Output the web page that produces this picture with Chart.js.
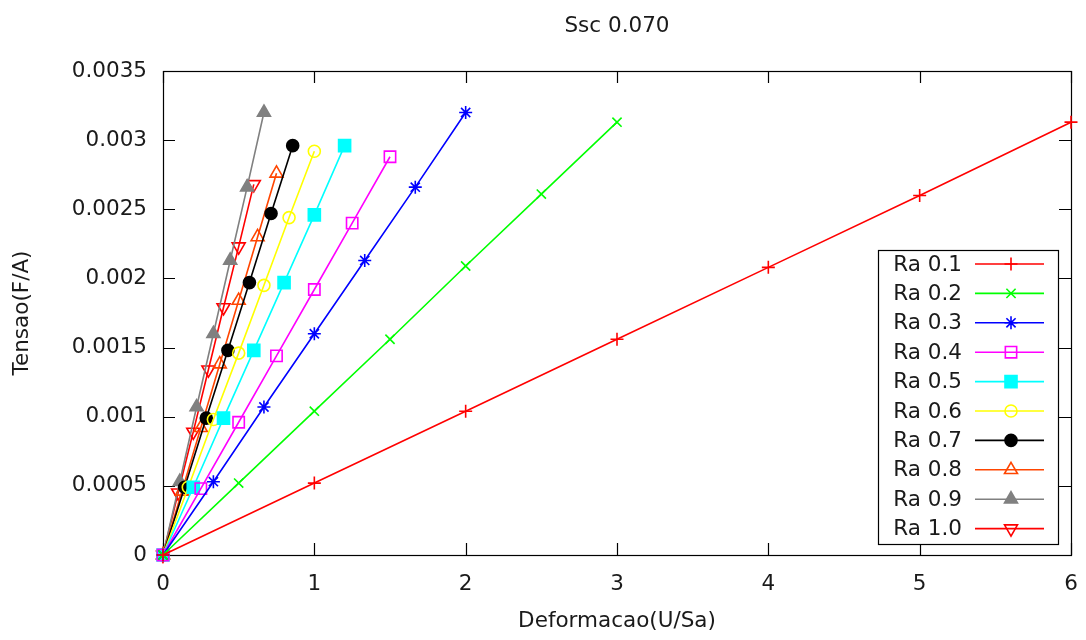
<!DOCTYPE html>
<html>
<head>
<meta charset="utf-8">
<script src="https://cdn.jsdelivr.net/npm/chart.js@4.4.0/dist/chart.umd.min.js"></script>
<style>
  html, body { margin: 0; padding: 0; background: #fff; }
  #wrap { width: 1086px; height: 640px; }
</style>
</head>
<body>
<div id="wrap"><canvas id="myChart" width="1086" height="640"></canvas></div>
<script>
// Chart data
const titleText = 'Ssc 0.070';
const xTitle = 'Deformacao(U/Sa)';
const yTitle = 'Tensao(F/A)';

const xTicks = [0, 1, 2, 3, 4, 5, 6];
const yTicks = [0, 0.0005, 0.001, 0.0015, 0.002, 0.0025, 0.003, 0.0035];
const yTickLabels = ['0', '0.0005', '0.001', '0.0015', '0.002', '0.0025', '0.003', '0.0035'];

const seriesNames = ['Ra 0.1', 'Ra 0.2', 'Ra 0.3', 'Ra 0.4', 'Ra 0.5', 'Ra 0.6', 'Ra 0.7', 'Ra 0.8', 'Ra 0.9', 'Ra 1.0'];

const xRa01 = [0, 1, 2, 3, 4, 5, 6];
const yRa01 = [0, 0.00052, 0.00104, 0.00156, 0.00208, 0.0026, 0.00313];
const xRa02 = [0, 0.5, 1, 1.5, 2, 2.5, 3];
const yRa02 = [0, 0.00052, 0.00104, 0.00156, 0.00209, 0.00261, 0.00313];
const xRa03 = [0, 0.333, 0.667, 1, 1.333, 1.667, 2];
const yRa03 = [0, 0.00053, 0.00107, 0.0016, 0.00213, 0.00266, 0.0032];
const xRa04 = [0, 0.25, 0.5, 0.75, 1, 1.25, 1.5];
const yRa04 = [0, 0.00048, 0.00096, 0.00144, 0.00192, 0.0024, 0.00288];
const xRa05 = [0, 0.2, 0.4, 0.6, 0.8, 1, 1.2];
const yRa05 = [0, 0.00049, 0.00099, 0.00148, 0.00197, 0.00246, 0.00296];
const xRa06 = [0, 0.167, 0.333, 0.5, 0.667, 0.833, 1];
const yRa06 = [0, 0.00049, 0.00098, 0.00146, 0.00195, 0.00244, 0.00292];
const xRa07 = [0, 0.143, 0.286, 0.429, 0.571, 0.714, 0.857];
const yRa07 = [0, 0.00049, 0.00099, 0.00148, 0.00197, 0.00247, 0.00296];
const xRa08 = [0, 0.125, 0.25, 0.375, 0.5, 0.625, 0.75];
const yRa08 = [0, 0.00046, 0.00092, 0.00138, 0.00184, 0.0023, 0.00276];
const xRa09 = [0, 0.111, 0.222, 0.333, 0.444, 0.556, 0.667];
const yRa09 = [0, 0.00053, 0.00107, 0.0016, 0.00213, 0.00266, 0.0032];
const xRa10 = [0, 0.1, 0.2, 0.3, 0.4, 0.5, 0.6];
const yRa10 = [0, 0.00045, 0.00089, 0.00134, 0.00179, 0.00223, 0.00268];

const xValues = [xRa01, xRa02, xRa03, xRa04, xRa05, xRa06, xRa07, xRa08, xRa09, xRa10];
const yValues = [yRa01, yRa02, yRa03, yRa04, yRa05, yRa06, yRa07, yRa08, yRa09, yRa10];

// styles (gnuplot look)
const colors = ['#ff0000', '#00ff00', '#0000ff', '#ff00ff', '#00ffff', '#ffff00', '#000000', '#ff4500', '#808080', '#ff0000'];
const markers = ['cross', 'crossRot', 'star', 'rect', 'rect', 'circle', 'circle', 'triangle', 'triangle', 'triangle'];
const filled = [false, false, false, false, true, false, true, false, true, false];
const radii = [6.5, 6.5, 6.5, 8, 8.5, 6, 6, 7.5, 7.5, 7.5];
const rotations = [0, 0, 0, 0, 0, 0, 0, 0, 0, 180];

const FONT = 'DejaVu Sans';
const FONT_SIZE = 21.5;
const TEXT = '#1a1a1a';

let datasets = seriesNames.map((name, i) => ({
    label: name,
    data: xValues[i].map((x, j) => ({ x: x, y: yValues[i][j] })),
    borderColor: colors[i],
    borderWidth: 1.6,
    backgroundColor: filled[i] ? colors[i] : 'rgba(255,255,255,0)',
    pointStyle: markers[i],
    pointRadius: radii[i],
    pointBorderWidth: 1.6,
    pointBorderColor: colors[i],
    pointBackgroundColor: filled[i] ? colors[i] : 'rgba(255,255,255,0)',
    pointRotation: rotations[i],
    showLine: true,
    tension: 0,
    clip: false
}));

// frame, inward ticks on all four sides, title and gnuplot-style key
const gnuplotFrame = {
    id: 'gnuplotFrame',
    beforeDatasetsDraw(chart) {
        const { ctx, chartArea: a, scales } = chart;
        const tl = 12;
        ctx.save();
        ctx.strokeStyle = '#000';
        ctx.lineWidth = 1.2;
        ctx.beginPath();
        for (let v of xTicks) {
            let px = Math.round(scales.x.getPixelForValue(v)) + 0.5;
            ctx.moveTo(px, a.bottom); ctx.lineTo(px, a.bottom - tl);
            ctx.moveTo(px, a.top); ctx.lineTo(px, a.top + tl);
        }
        for (let v of yTicks) {
            let py = Math.round(scales.y.getPixelForValue(v)) + 0.5;
            ctx.moveTo(a.left, py); ctx.lineTo(a.left + tl, py);
            ctx.moveTo(a.right, py); ctx.lineTo(a.right - tl, py);
        }
        ctx.stroke();
        ctx.strokeRect(Math.round(a.left) + 0.5, Math.round(a.top) + 0.5,
            Math.round(a.right - a.left), Math.round(a.bottom - a.top));

        // title over the plot area
        ctx.fillStyle = TEXT;
        ctx.font = FONT_SIZE + 'px "' + FONT + '"';
        ctx.textAlign = 'center';
        ctx.textBaseline = 'middle';
        ctx.fillText(titleText, (a.left + a.right) / 2, 26);
        ctx.restore();
    },
    afterDatasetsDraw(chart) {
        const { ctx, chartArea: a } = chart;
        const boxRight = a.right - 13, boxBottom = a.bottom - 11;
        const boxW = 180, rowH = 29.4;
        const boxH = rowH * seriesNames.length;
        const boxLeft = boxRight - boxW, boxTop = boxBottom - boxH;
        ctx.save();
        ctx.fillStyle = '#fff';
        ctx.fillRect(boxLeft, boxTop, boxW, boxH);
        ctx.strokeStyle = '#000';
        ctx.lineWidth = 1.2;
        ctx.strokeRect(Math.round(boxLeft) + 0.5, Math.round(boxTop) + 0.5, Math.round(boxW), Math.round(boxH));
        ctx.font = FONT_SIZE + 'px "' + FONT + '"';
        ctx.textAlign = 'right';
        ctx.textBaseline = 'middle';
        chart.data.datasets.forEach((ds, i) => {
            const cy = boxTop + 14 + rowH * i;
            ctx.fillStyle = TEXT;
            ctx.fillText(ds.label, boxLeft + 84, cy + 1);
            ctx.strokeStyle = ds.borderColor;
            ctx.lineWidth = ds.borderWidth;
            ctx.beginPath();
            ctx.moveTo(boxLeft + 97, cy);
            ctx.lineTo(boxLeft + 166, cy);
            ctx.stroke();
            const opts = {
                pointStyle: ds.pointStyle,
                radius: ds.pointRadius,
                rotation: ds.pointRotation,
                borderWidth: ds.pointBorderWidth
            };
            ctx.fillStyle = ds.pointBackgroundColor;
            ctx.strokeStyle = ds.pointBorderColor;
            ctx.lineWidth = ds.pointBorderWidth;
            if (Chart.helpers && Chart.helpers.drawPoint) {
                Chart.helpers.drawPoint(ctx, opts, boxLeft + 133, cy);
            }
        });
        ctx.restore();
    }
};

const ctx = document.getElementById('myChart');

new Chart(ctx, {
    type: 'scatter',
    data: { datasets: datasets },
    options: {
        responsive: false,
        animation: false,
        layout: { padding: { top: 71, right: 15, left: 0, bottom: 0 } },
        plugins: {
            legend: { display: false },
            title: { display: false },
            tooltip: { enabled: false }
        },
        scales: {
            x: {
                type: 'linear',
                min: 0,
                max: 6,
                afterFit: (scale) => {
                    scale.height = 85;
                    scale.paddingLeft = 0;
                    scale.paddingRight = 0;
                },
                afterBuildTicks: (scale) => { scale.ticks = xTicks.map(v => ({ value: v })); },
                grid: { display: false, drawTicks: false },
                border: { display: false },
                ticks: {
                    padding: 17,
                    color: TEXT,
                    font: { family: FONT, size: FONT_SIZE },
                    maxRotation: 0,
                    callback: (v) => String(v)
                },
                title: {
                    display: true,
                    text: xTitle,
                    color: TEXT,
                    font: { family: FONT, size: FONT_SIZE },
                    padding: { top: 0, bottom: 6 }
                }
            },
            y: {
                type: 'linear',
                min: 0,
                max: 0.0035,
                afterFit: (scale) => {
                    scale.width = 163;
                    scale.paddingTop = 0;
                    scale.paddingBottom = 0;
                },
                afterBuildTicks: (scale) => { scale.ticks = yTicks.map(v => ({ value: v })); },
                grid: { display: false, drawTicks: false },
                border: { display: false },
                ticks: {
                    padding: 16,
                    color: TEXT,
                    font: { family: FONT, size: FONT_SIZE },
                    callback: (v, i) => yTickLabels[i]
                },
                title: {
                    display: true,
                    text: yTitle,
                    color: TEXT,
                    font: { family: FONT, size: FONT_SIZE },
                    padding: { top: 10, bottom: 0 }
                }
            }
        }
    },
    plugins: [gnuplotFrame]
});
</script>
</body>
</html>
